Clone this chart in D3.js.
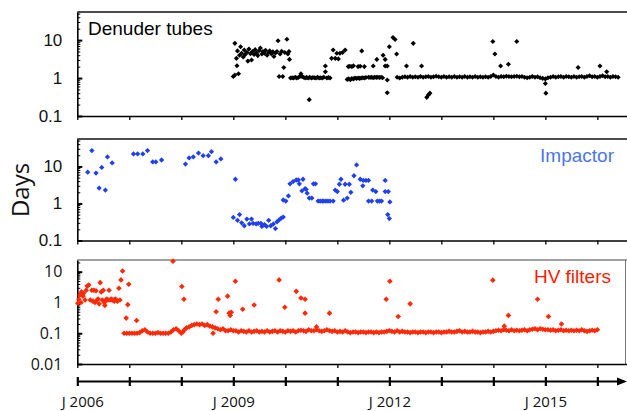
<!DOCTYPE html>
<html>
<head>
<meta charset="utf-8">
<script src="https://cdn.jsdelivr.net/npm/d3@7"></script>
<style>
body { margin: 0; background: #fff; }
</style>
</head>
<body>
<svg width="627" height="411"></svg>
<script>
// ---- data: [decimal year, days] ----
var yearTicks = [2006, 2007, 2008, 2009, 2010, 2011, 2012, 2013, 2014, 2015, 2016]
var yearLabels = [2006, 2009, 2012, 2015]
var majorTicksTop = [0.1, 1, 10]
var majorTicksHV = [0.01, 0.1, 1, 10]

var denuderScatter = [
 [2009.00,1.1],[2009.03,1.2],[2009.03,8.2],[2009.06,3.3],[2009.07,2.1],[2009.08,5.2],[2009.10,1.3],
 [2009.12,4.0],[2009.14,6.7],[2009.16,4.5],[2009.19,3.6],[2009.21,5.5],[2009.23,4.2],[2009.26,4.8],
 [2009.28,2.8],[2009.30,5.8],[2009.33,4.4],[2009.35,3.0],[2009.37,5.0],[2009.40,4.2],[2009.42,5.6],
 [2009.45,4.6],[2009.47,3.9],[2009.50,5.3],[2009.52,6.2],[2009.55,4.3],[2009.57,5.0],[2009.60,4.5],
 [2009.62,5.4],[2009.65,4.0],[2009.68,4.8],[2009.70,5.2],[2009.73,4.4],[2009.76,4.9],[2009.78,3.7],
 [2009.81,4.6],[2009.84,5.0],[2009.86,9.6],[2009.88,1.1],[2009.90,4.3],[2009.93,5.1],[2009.95,1.1],
 [2009.97,1.9],[2009.99,4.7],[2010.03,10.5],[2010.05,4.3],[2010.07,5.0],[2010.08,3.1],
 [2010.46,0.27],[2010.77,2.07],[2010.77,1.46],[2010.89,3.3],[2010.92,5.5],[2010.96,3.3],[2010.99,4.5],
 [2011.02,3.2],[2011.05,4.5],[2011.10,4.7],[2011.15,5.5],
 [2011.21,2.0],[2011.24,2.05],[2011.28,2.0],[2011.31,2.1],[2011.40,2.0],[2011.44,2.05],[2011.47,5.2],[2011.52,2.0],
 [2011.69,2.07],[2011.76,3.1],[2011.88,4.0],[2011.92,3.1],[2011.92,2.07],[2011.96,2.07],[2011.96,0.89],
 [2011.96,0.41],[2012.00,6.7],[2012.07,11.7],[2012.11,10.4],[2012.14,4.3],[2012.33,2.07],[2012.46,8.2],
 [2012.62,2.07],[2012.72,0.31],[2012.75,0.36],[2012.78,0.4],
 [2013.99,9.2],[2014.03,4.3],[2014.14,2.07],[2014.29,2.3],[2014.45,9.2],[2015.00,0.72],[2015.01,0.4],
 [2015.63,1.9],[2016.05,2.07],[2016.18,1.46]
]

var denuderBaseline = [
 [2010.10,1.0],[2010.13,1.02],[2010.16,1.0],[2010.19,1.05],[2010.22,1.0],[2010.25,1.03],[2010.28,1.1],
 [2010.30,1.3],[2010.32,1.1],[2010.35,1.05],[2010.38,1.0],[2010.41,1.04],[2010.44,1.0],[2010.47,1.05],
 [2010.50,1.0],[2010.53,1.03],[2010.56,1.02],[2010.59,1.0],[2010.62,1.05],[2010.65,1.0],[2010.68,1.02],
 [2010.71,1.0],[2010.74,1.05],[2010.80,1.0],[2010.83,1.03],[2010.86,1.0],
 [2011.19,0.92],[2011.22,0.95],[2011.25,0.9],[2011.28,0.97],[2011.31,0.95],[2011.34,1.0],[2011.37,0.97],
 [2011.40,1.0],[2011.43,0.98],[2011.46,1.0],[2011.49,1.02],[2011.52,1.0],[2011.55,1.03],
 [2011.60,1.05],[2011.63,1.03],[2011.66,1.05],[2011.69,1.02],[2011.72,1.05],[2011.75,1.04],[2011.78,1.05],
 [2011.81,1.03],[2011.84,1.05],[2011.87,1.02],
 [2012.15,1.05],[2012.20,1.0],[2012.25,1.05],[2012.30,1.08],[2012.35,1.05],[2012.40,1.1],[2012.45,1.05],
 [2012.50,1.08],[2012.55,1.05],[2012.60,1.1],[2012.65,1.05],[2012.70,1.08],[2012.75,1.1],[2012.80,1.05],
 [2012.85,1.08],[2012.90,1.12],[2012.95,1.08],[2013.00,1.05],[2013.05,1.1],[2013.10,1.05],[2013.15,1.08],
 [2013.20,1.05],[2013.25,1.1],[2013.30,1.05],[2013.35,1.08],[2013.40,1.05],[2013.45,1.1],[2013.50,1.05],
 [2013.55,1.08],[2013.60,1.05],[2013.65,1.1],[2013.70,1.05],[2013.75,1.08],[2013.80,1.05],[2013.85,1.08],
 [2013.90,1.05],[2013.95,1.1],[2014.00,1.2],[2014.05,1.1],[2014.10,1.05],[2014.15,1.1],[2014.20,1.08],
 [2014.25,1.12],[2014.30,1.1],[2014.35,1.08],[2014.40,1.1],[2014.45,1.12],[2014.50,1.08],[2014.55,1.1],
 [2014.60,1.05],[2014.65,1.02],[2014.70,1.05],[2014.75,1.1],[2014.80,1.05],[2014.85,1.08],[2014.90,1.02],
 [2014.95,0.98],[2015.00,0.95],[2015.05,1.02],[2015.10,1.05],[2015.15,1.1],[2015.20,1.05],[2015.25,1.08],
 [2015.30,1.1],[2015.35,1.05],[2015.40,1.1],[2015.45,1.08],[2015.50,1.05],[2015.55,1.1],[2015.60,1.05],
 [2015.65,1.08],[2015.70,1.1],[2015.75,1.05],[2015.80,1.1],[2015.85,1.15],[2015.90,1.08],[2015.95,1.1],
 [2016.00,1.05],[2016.05,1.1],[2016.10,1.15],[2016.15,1.08],[2016.20,1.1],[2016.25,1.05],[2016.30,1.1],
 [2016.35,1.08],[2016.40,1.05]
]

var impactor = [
 [2006.20,7.0],[2006.28,26.8],[2006.36,6.6],[2006.42,2.6],[2006.47,9.4],[2006.54,2.3],[2006.58,18],
 [2006.67,12.4],[2007.08,21.8],[2007.16,21.8],[2007.26,21.8],[2007.35,26.8],[2007.45,13.2],[2007.51,13.2],
 [2007.62,14.9],[2008.08,11.6],[2008.15,17],[2008.23,18],[2008.33,23],[2008.42,19.5],[2008.52,19.5],
 [2008.58,25],[2008.67,13.2],[2008.76,15.9],[2009.04,4.5],
 [2009.00,0.42],[2009.08,0.35],[2009.12,0.5],[2009.16,0.3],[2009.21,0.25],[2009.26,0.38],[2009.31,0.28],
 [2009.35,0.38],[2009.38,0.29],[2009.44,0.28],[2009.48,0.29],[2009.53,0.29],[2009.55,0.24],[2009.60,0.27],
 [2009.64,0.24],[2009.68,0.35],[2009.72,0.25],[2009.77,0.28],[2009.81,0.21],[2009.84,0.32],[2009.88,0.36],
 [2009.92,0.40],[2009.96,0.43],
 [2009.96,1.24],[2010.01,1.16],[2010.06,1.6],[2010.09,3.4],[2010.15,3.9],[2010.21,4.3],[2010.25,4.3],
 [2010.27,3.4],[2010.32,2.2],[2010.34,4.5],[2010.38,2.5],[2010.40,2.4],[2010.42,1.9],[2010.46,1.4],
 [2010.51,1.4],[2010.54,3.4],[2010.58,3.4],[2010.63,1.16],[2010.67,1.16],[2010.71,1.16],[2010.74,1.16],
 [2010.78,1.16],[2010.82,1.16],[2010.86,1.16],[2010.92,1.16],[2010.96,2.3],[2011.00,2.1],[2011.04,3.3],
 [2011.07,4.5],[2011.12,1.23],[2011.15,3.3],[2011.19,1.4],[2011.23,3.3],[2011.26,2.0],[2011.32,5.6],
 [2011.37,11],[2011.44,4.5],[2011.49,3.0],[2011.50,4.2],[2011.55,4.2],[2011.60,4.2],[2011.60,1.16],
 [2011.66,1.16],[2011.68,2.3],[2011.74,2.1],[2011.77,1.16],[2011.81,1.16],[2011.85,1.16],[2011.92,4.2],
 [2011.92,2.1],[2011.98,2.1],[2012.01,1.1],[2011.97,0.5],[2012.00,0.39]
]

var hvScatter = [
 [2006.01,0.95],[2006.03,1.27],[2006.05,1.75],[2006.07,1.0],[2006.08,2.2],[2006.11,1.6],[2006.12,2.0],
 [2006.15,1.2],[2006.17,2.5],[2006.19,3.4],[2006.22,3.7],[2006.25,1.2],[2006.28,2.5],[2006.30,1.1],
 [2006.32,2.5],[2006.34,1.0],[2006.36,2.4],[2006.38,1.2],[2006.40,1.3],[2006.42,0.9],[2006.44,4.4],
 [2006.46,2.2],[2006.48,1.2],[2006.50,2.5],[2006.52,1.0],[2006.53,0.8],[2006.55,1.2],[2006.57,1.3],
 [2006.59,1.2],[2006.61,2.5],[2006.63,1.2],[2006.65,1.3],[2006.67,1.2],[2006.69,1.2],[2006.71,1.1],
 [2006.73,1.3],[2006.75,1.2],[2006.77,1.1],[2006.80,2.9],[2006.82,1.2],[2006.84,5.4],[2006.87,10.5],
 [2006.94,0.31],[2006.97,0.85],[2006.99,3.9],[2007.14,0.26],
 [2007.84,22],[2008.01,3.3],[2008.05,1.27],[2008.61,0.1],[2008.67,0.5],[2008.71,1.27],[2008.89,1.6],
 [2008.92,0.45],[2008.94,0.38],[2008.96,0.48],[2009.04,4.9],[2009.18,0.6],[2009.40,0.83],[2009.88,5.4],
 [2009.99,0.7],[2010.21,2.3],[2010.30,1.4],[2010.38,1.27],[2010.38,0.45],[2010.60,0.16],[2010.85,0.45],
 [2011.94,1.27],[2012.01,4.9],[2012.17,0.35],[2012.40,0.9],[2013.99,5.3],[2014.21,0.17],[2014.29,0.38],
 [2014.85,1.27],[2015.06,0.35],[2015.31,0.2]
]

var hvBaseline = [
 [2006.90,0.10],[2006.95,0.10],[2007.00,0.10],[2007.05,0.10],[2007.10,0.10],[2007.15,0.10],[2007.20,0.105],
 [2007.25,0.12],[2007.30,0.13],[2007.35,0.11],[2007.40,0.10],[2007.45,0.10],[2007.50,0.10],[2007.55,0.105],
 [2007.60,0.10],[2007.65,0.10],[2007.70,0.10],[2007.75,0.10],[2007.80,0.11],[2007.85,0.13],[2007.90,0.14],
 [2007.95,0.12],[2008.00,0.10],[2008.03,0.11],[2008.06,0.13],[2008.10,0.15],[2008.15,0.16],[2008.20,0.18],
 [2008.25,0.19],[2008.30,0.20],[2008.35,0.19],[2008.40,0.20],[2008.45,0.18],[2008.50,0.19],[2008.55,0.17],
 [2008.60,0.16],[2008.65,0.15],[2008.70,0.14],[2008.75,0.13],[2008.80,0.14],[2008.85,0.12],[2008.90,0.12],
 [2008.95,0.13],[2009.00,0.12],
 [2009.05,0.12],[2009.10,0.11],[2009.15,0.12],[2009.20,0.115],[2009.25,0.11],[2009.30,0.12],[2009.35,0.11],
 [2009.40,0.115],[2009.45,0.12],[2009.50,0.11],[2009.55,0.115],[2009.60,0.11],[2009.65,0.12],[2009.70,0.11],
 [2009.75,0.115],[2009.80,0.12],[2009.85,0.11],[2009.90,0.12],[2009.95,0.115],[2010.00,0.11],
 [2010.05,0.12],[2010.10,0.115],[2010.15,0.12],[2010.20,0.11],[2010.25,0.12],[2010.30,0.125],[2010.35,0.12],
 [2010.40,0.115],[2010.45,0.13],[2010.50,0.12],[2010.55,0.12],[2010.60,0.13],[2010.65,0.12],[2010.70,0.115],
 [2010.75,0.12],[2010.80,0.13],[2010.85,0.12],[2010.90,0.115],[2010.95,0.12],[2011.00,0.11],
 [2011.05,0.115],[2011.10,0.11],[2011.15,0.12],[2011.20,0.11],[2011.25,0.105],[2011.30,0.11],[2011.35,0.11],
 [2011.40,0.105],[2011.45,0.11],[2011.50,0.11],[2011.55,0.105],[2011.60,0.11],[2011.65,0.11],[2011.70,0.105],
 [2011.75,0.11],[2011.80,0.105],[2011.85,0.11],[2011.90,0.11],[2011.95,0.115],[2012.00,0.12],
 [2012.05,0.115],[2012.10,0.11],[2012.15,0.12],[2012.20,0.11],[2012.25,0.115],[2012.30,0.11],[2012.35,0.11],
 [2012.40,0.105],[2012.45,0.11],[2012.50,0.11],[2012.55,0.105],[2012.60,0.11],[2012.65,0.11],[2012.70,0.105],
 [2012.75,0.11],[2012.80,0.11],[2012.85,0.105],[2012.90,0.11],[2012.95,0.11],[2013.00,0.105],
 [2013.05,0.11],[2013.10,0.11],[2013.15,0.115],[2013.20,0.11],[2013.25,0.11],[2013.30,0.115],[2013.35,0.12],
 [2013.40,0.11],[2013.45,0.115],[2013.50,0.11],[2013.55,0.11],[2013.60,0.115],[2013.65,0.11],[2013.70,0.11],
 [2013.75,0.105],[2013.80,0.11],[2013.85,0.11],[2013.90,0.115],[2013.95,0.11],[2014.00,0.115],
 [2014.05,0.12],[2014.10,0.125],[2014.15,0.12],[2014.20,0.13],[2014.25,0.125],[2014.30,0.12],[2014.35,0.13],
 [2014.40,0.12],[2014.45,0.125],[2014.50,0.12],[2014.55,0.125],[2014.60,0.13],[2014.65,0.12],[2014.70,0.13],
 [2014.75,0.135],[2014.80,0.14],[2014.85,0.13],[2014.90,0.14],[2014.95,0.135],[2015.00,0.13],
 [2015.05,0.13],[2015.10,0.125],[2015.15,0.13],[2015.20,0.12],[2015.25,0.125],[2015.30,0.13],[2015.35,0.12],
 [2015.40,0.125],[2015.45,0.12],[2015.50,0.125],[2015.55,0.12],[2015.60,0.125],[2015.65,0.12],[2015.70,0.13],
 [2015.75,0.12],[2015.80,0.115],[2015.85,0.12],[2015.90,0.125],[2015.95,0.12],[2016.00,0.13]
]

// ---- layout ----
var svg = d3.select("svg")
var left = 77.3, right = 627

var x = d3.scaleLinear().domain([2006, 2016.57]).range([left, right])

var panels = [
  {label: "Denuder tubes", data: denuderScatter.concat(denuderBaseline), top: 12, bottom: 116,
   domain: [0.1, 55], major: majorTicksTop, color: "#000", size: 13, labelColor: "#000",
   labelX: 88, labelY: 35, anchor: "start", tickFont: "Liberation Sans, Arial, sans-serif", tickSize: 17, frame: false},
  {label: "Impactor", data: impactor, top: 139, bottom: 240.5,
   domain: [0.1, 55], major: majorTicksTop, color: "#1f3ff2", size: 14, labelColor: "#4a74ee",
   labelX: 614, labelY: 162, anchor: "end", tickFont: "Liberation Sans, Arial, sans-serif", tickSize: 17, frame: false},
  {label: "HV filters", data: hvBaseline.concat(hvScatter), top: 260, bottom: 364,
   domain: [0.01, 24], major: majorTicksHV, color: "#ff2a08", size: 16, labelColor: "#ff1a00",
   labelX: 611, labelY: 283, anchor: "end", tickFont: "Open Sans, sans-serif", tickSize: 16, frame: true}
]

panels.forEach(function(p) {
  var y = d3.scaleLog().domain(p.domain).range([p.bottom, p.top])
  var g = svg.append("g")

  // top edge / frame
  g.append("line")
    .attr("x1", left).attr("x2", right)
    .attr("y1", p.top).attr("y2", p.top)
    .attr("stroke", p.frame ? "#444" : "#111")
    .attr("stroke-width", p.frame ? 1 : 1.4)
  if (p.frame) {
    g.append("line")
      .attr("x1", 625.5).attr("x2", 625.5)
      .attr("y1", p.top).attr("y2", p.bottom)
      .attr("stroke", "#777").attr("stroke-width", 1)
  }

  // minor ticks (inside)
  var minor = g.append("g").attr("transform", "translate(" + left + ",0)")
    .call(d3.axisRight(y).tickValues(y.ticks()).tickSize(3).tickSizeOuter(0).tickFormat(""))
  minor.select(".domain").attr("stroke-width", 1.6)
  minor.selectAll(".tick line").attr("stroke-width", 1)

  // major ticks
  var major = g.append("g").attr("transform", "translate(" + left + ",0)")
    .call(d3.axisRight(y).tickValues(p.major).tickSize(5).tickSizeOuter(0).tickFormat(""))
  major.select(".domain").remove()
  major.selectAll(".tick line").attr("stroke-width", 2)

  // labels
  var labels = g.append("g").attr("transform", "translate(" + left + ",0)")
    .call(d3.axisLeft(y).tickValues(p.major).tickSize(0).tickPadding(15).tickFormat(function(d) { return String(d) }))
  labels.select(".domain").remove()
  labels.selectAll("text")
    .attr("font-family", p.tickFont)
    .attr("font-size", p.tickSize)
    .attr("fill", "#111")

  // bottom edge with year ticks
  var bottom = g.append("g").attr("transform", "translate(0," + p.bottom + ")")
    .call(d3.axisBottom(x).tickValues(yearTicks).tickSize(4).tickSizeOuter(0).tickFormat(""))
  bottom.select(".domain").attr("stroke-width", 1.6)
  bottom.selectAll(".tick line").attr("stroke-width", 1.3)

  // points (small squares turned 45 degrees)
  g.append("g")
    .selectAll("path")
    .data(p.data)
    .enter()
    .append("path")
    .attr("transform", function(d) { return "translate(" + x(d[0]) + "," + y(d[1]) + ") rotate(45)" })
    .attr("d", d3.symbol(d3.symbolSquare).size(p.size))
    .attr("fill", p.color)

  // series label
  g.append("text")
    .attr("x", p.labelX).attr("y", p.labelY)
    .attr("text-anchor", p.anchor)
    .attr("font-family", "Liberation Sans, Arial, sans-serif")
    .attr("font-size", 19)
    .attr("fill", p.labelColor)
    .text(p.label)
})

// shared y title
svg.append("text")
  .attr("transform", "translate(29,190) rotate(-90)")
  .attr("text-anchor", "middle")
  .attr("font-family", "Open Sans, sans-serif")
  .attr("font-size", 24)
  .attr("fill", "#111")
  .text("Days")

// time axis with arrow
var axisY = 381.5
svg.append("line")
  .attr("x1", left).attr("x2", 619)
  .attr("y1", axisY).attr("y2", axisY)
  .attr("stroke", "#000").attr("stroke-width", 2.2)
svg.append("path")
  .attr("d", "M" + 617 + "," + (axisY - 4) + "L" + 627 + "," + axisY + "L" + 617 + "," + (axisY + 4) + "Z")
  .attr("fill", "#000")

var timeTicks = svg.append("g").attr("transform", "translate(0," + (axisY - 4.5) + ")")
  .call(d3.axisBottom(x).tickValues(yearTicks).tickSize(9).tickSizeOuter(0).tickFormat(""))
timeTicks.select(".domain").remove()
timeTicks.selectAll(".tick line").attr("stroke-width", 2.2)

var timeLabels = svg.append("g").attr("transform", "translate(0,396)")
  .call(d3.axisBottom(x).tickValues(yearLabels).tickSize(0).tickPadding(0).tickFormat(function(d) { return "J " + d }))
timeLabels.select(".domain").remove()
timeLabels.selectAll("text")
  .attr("font-family", "Open Sans, sans-serif")
  .attr("font-size", 15)
  .attr("fill", "#111")
  .attr("dx", function(d) { return d === 2006 ? 5 : 0 })
</script>
</body>
</html>
